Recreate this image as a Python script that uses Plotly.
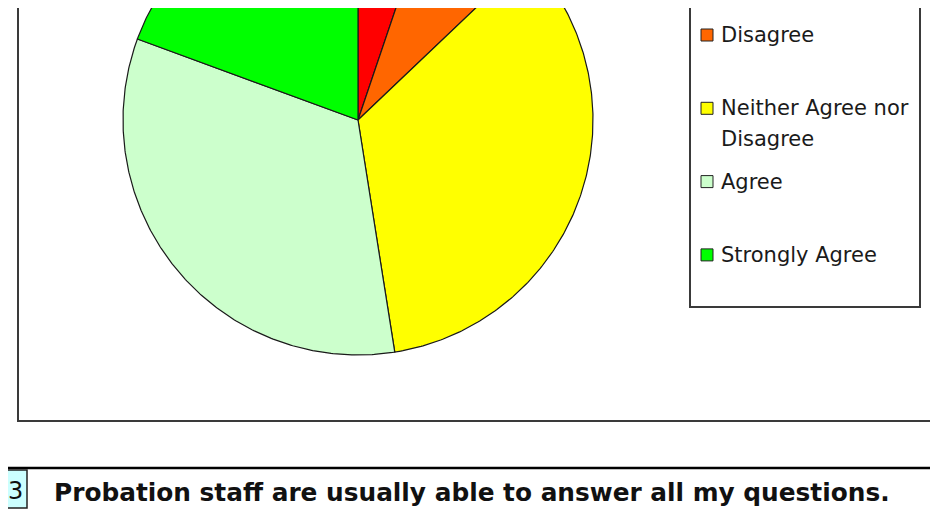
"""Pie chart: responses to question 3 (probation staff)."""

import numpy as np
import plotly.graph_objects as go

categorias = ["Strongly Disagree", "Disagree", "Neither Agree nor<br>Disagree", "Agree", "Strongly Agree"]
porcentajes = [5.2, 7.7, 34.6, 33.1, 19.4]
colores = ["#FF0000", "#FF6600", "#FFFF00", "#CCFFCC", "#00FF00"]
numero_pregunta = "3"
pregunta = "Probation staff are usually able to answer all my questions."

# page body has an 8px margin: the figure fills the rest of the 938x524 window
MARGEN = 8
W, H = 938 - MARGEN, 524 - MARGEN
CX, CY, R = 358, 120, 235
FUENTE = "DejaVu Sans"

fig = go.Figure()

# pie drawn clockwise from 12 o'clock, in window-pixel axis units
total = sum(porcentajes)
inicio = 0.0
for nombre, valor, color in zip(categorias, porcentajes, colores):
    fin = inicio + valor / total * 360
    ang = np.radians(np.linspace(inicio, fin, max(int(fin - inicio) * 2, 4)))
    xs = [CX] + list(CX + R * np.sin(ang)) + [CX]
    ys = [CY] + list(CY - R * np.cos(ang)) + [CY]
    fig.add_trace(
        go.Scatter(
            x=xs,
            y=ys,
            fill="toself",
            fillcolor=color,
            mode="lines",
            line={"color": "#1a1a1a", "width": 1.2},
            name=nombre.replace("<br>", " "),
            hoverinfo="name",
            showlegend=False,
        )
    )
    inicio = fin

shapes = [
    # chart area border
    dict(type="rect", x0=18, x1=936, y0=-20, y1=421, line={"color": "#3a3a3a", "width": 2}),
    # legend box
    dict(type="rect", x0=690, x1=920, y0=-20, y1=307, line={"color": "#3a3a3a", "width": 2}),
    # rule above the question
    dict(type="line", x0=0, x1=960, y0=468, y1=468, line={"color": "#000000", "width": 2.5}),
    # question number box
    dict(type="rect", x0=-10, x1=27, y0=470, y1=508, fillcolor="#CCFFFF", line={"color": "#222222", "width": 1.5}),
]

annotations = []
paso = 73.3
for i, (nombre, color) in enumerate(zip(categorias, colores)):
    ym = 35 + paso * (i - 1)
    shapes.append(
        dict(type="rect", x0=701, x1=713, y0=ym - 6, y1=ym + 6, fillcolor=color,
             line={"color": "#222222", "width": 1})
    )
    for j, linea in enumerate(nombre.split("<br>")):
        annotations.append(
            dict(x=719, y=ym + j * 31, text=linea, showarrow=False, xanchor="left", yanchor="middle",
                 font={"family": FUENTE, "size": 21, "color": "#1a1a1a"})
        )

annotations.append(
    dict(x=52, y=492, text=f"<b>{pregunta}</b>", showarrow=False, xanchor="left", yanchor="middle",
         font={"family": FUENTE, "size": 24.8, "color": "#111111"})
)
annotations.append(
    dict(x=25, y=491, text=numero_pregunta, showarrow=False, xanchor="right", yanchor="middle",
         font={"family": FUENTE, "size": 24, "color": "#111111"})
)

fig.update_layout(
    width=W,
    height=H,
    autosize=False,
    margin={"l": 0, "r": 0, "t": 0, "b": 0},
    paper_bgcolor="white",
    plot_bgcolor="white",
    showlegend=False,
    xaxis={"range": [MARGEN, MARGEN + W], "visible": False, "fixedrange": True},
    yaxis={"range": [MARGEN + H, MARGEN], "visible": False, "fixedrange": True},
    shapes=shapes,
    annotations=annotations,
)

fig.write_html("out.html")
